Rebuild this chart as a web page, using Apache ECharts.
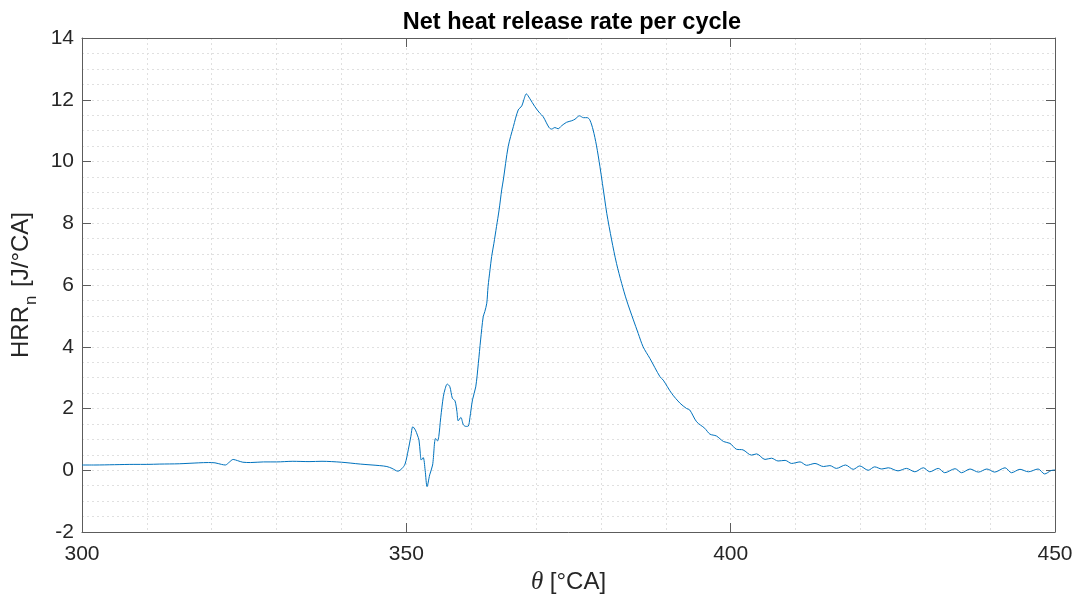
<!DOCTYPE html>
<html>
<head>
<meta charset="utf-8">
<script src="https://cdn.jsdelivr.net/npm/echarts@6/dist/echarts.min.js"></script>
<style>
html,body{margin:0;padding:0;background:#fff;}
#chart{width:1077px;height:597px;}
</style>
</head>
<body>
<div id="chart"></div>
<script>
const titleText = 'Net heat release rate per cycle';
const xTicks = [300, 350, 400, 450];
const yTicks = [-2, 0, 2, 4, 6, 8, 10, 12, 14];

const theta = [
  300, 302, 305, 308, 310, 312, 315, 318, 319.5, 320.5, 321.5, 322.1, 322.7, 323.3, 324, 324.8,
  326, 328, 330, 332.5, 335, 337, 340, 342.9, 345.9, 347, 347.8, 348.7, 349.3, 349.8,
  350.3, 350.7, 351.0, 351.4, 351.7, 351.95, 352.15, 352.3, 352.6, 352.9, 353.2, 353.6, 354.05,
  354.5, 354.8, 355.0, 355.3, 355.7, 356.0, 356.3, 356.7, 357.1, 357.5, 357.8, 358.0, 358.4,
  358.8, 359.2, 359.55, 359.8, 360.2, 360.7, 361.1, 361.45, 361.85, 362.1, 362.4, 362.6, 362.9,
  363.15, 363.5, 363.9, 364.3, 364.7, 364.95, 365.7, 366.5, 367.25, 367.8, 368.1, 368.5, 369.0,
  369.8, 370.6, 371.1, 372.0, 372.4, 372.9, 373.4, 373.9, 374.7, 375.5, 376.0, 376.7, 377.3,
  377.9, 378.3, 378.8, 379.3, 379.85, 380.6, 380.9, 381.65, 382.4, 383.2, 383.95, 385.0, 385.75,
  386.5, 387.55, 389.1, 389.6, 390.9, 392.2, 393.2, 393.7, 394.75, 396.0, 396.8, 397.8, 398.9,
  399.9, 400.9, 401.9, 403.2, 404.0, 405.3, 406.3, 407.3, 408.4, 409.4, 410.7, 411.7, 413.0,
  414.3, 415.3, 416.3, 417.7, 418.9, 419.9, 421.2, 422.2, 423.3, 424.3, 425.8, 427.1, 428.4,
  429.7, 430.7, 432.0, 433.0, 434.6, 435.6, 436.9, 438.2, 439.5, 440.7, 442.3, 443.3, 444.6,
  445.9, 447.4, 448.4, 449.4, 450
];
const hrr = [
  0.17, 0.17, 0.18, 0.19, 0.19, 0.2, 0.21, 0.24, 0.25, 0.24, 0.19, 0.17, 0.26, 0.35, 0.31, 0.26,
  0.25, 0.27, 0.27, 0.29, 0.28, 0.29, 0.26, 0.2, 0.15, 0.12, 0.06, -0.03, 0.05, 0.2,
  0.66, 1.1, 1.41, 1.3, 1.14, 0.98, 0.55, 0.33, 0.41, 0.0, -0.53, -0.15, 0.17,
  1.03, 0.95, 1.09, 1.7, 2.38, 2.65, 2.79, 2.71, 2.33, 2.25, 1.9, 1.6, 1.71,
  1.47, 1.42, 1.43, 1.7, 2.28, 2.7, 3.46, 4.22, 4.97, 5.14, 5.41, 5.95, 6.49,
  6.92, 7.35, 7.89, 8.43, 9.08, 9.4, 10.48, 11.13, 11.67, 11.8, 11.99, 12.19, 12.05,
  11.78, 11.56, 11.45, 11.1, 11.05, 11.1, 11.06, 11.15, 11.27, 11.32, 11.37, 11.48, 11.42,
  11.42, 11.34, 11.02, 10.53, 9.83, 8.75, 8.32, 7.46, 6.7, 6.05, 5.51, 4.87, 4.43,
  4.0, 3.62, 3.03, 2.92, 2.49, 2.17, 2.0, 1.95, 1.57, 1.36, 1.17, 1.11, 0.93,
  0.87, 0.68, 0.66, 0.49, 0.53, 0.35, 0.39, 0.3, 0.32, 0.22, 0.27, 0.16, 0.22,
  0.12, 0.15, 0.06, 0.17, 0.03, 0.14, 0.0, 0.11, 0.04, 0.08, -0.02, 0.06, -0.05,
  0.08, -0.05, 0.06, -0.08, 0.05, -0.08, 0.04, -0.06, 0.04, -0.06, 0.08, -0.08, 0.03,
  -0.05, 0.04, -0.12, -0.01, 0.01
];

const seriesData = theta.map((t, i) => [t, hrr[i]]);
const gridColor = '#e0e0e0';
const axisColor = '#5c5c5c';
const textColor = '#262626';
const font = '"Liberation Sans", Arial, Helvetica, sans-serif';
const serif = '"Liberation Serif", "Times New Roman", serif';

const chart = echarts.init(document.getElementById('chart'), null, {renderer: 'canvas'});

const baseX = {
  type: 'value', min: xTicks[0], max: xTicks[xTicks.length - 1], interval: 50
};
const baseY = {
  type: 'value', min: yTicks[0], max: yTicks[yTicks.length - 1], interval: 2
};

chart.setOption({
  animation: false,
  backgroundColor: '#ffffff',
  title: {
    text: titleText,
    left: 567, top: 6, textAlign: 'center',
    textStyle: {fontFamily: font, fontSize: 23.5, fontWeight: 'bold', color: '#000'}
  },
  grid: {left: 82, right: 22, top: 38, bottom: 65, containLabel: false, outerBoundsMode: 'none'},
  xAxis: [
    Object.assign({}, baseX, {
      position: 'bottom',
      name: '{i|θ}{a| [°CA]}',
      nameLocation: 'middle', nameGap: 34,
      nameTextStyle: {
        rich: {
          i: {fontFamily: serif, fontSize: 25, fontStyle: 'italic', color: textColor},
          a: {fontFamily: font, fontSize: 24, color: textColor}
        }
      },
      axisLine: {show: true, onZero: false, lineStyle: {color: axisColor, width: 1}},
      axisTick: {show: true, inside: true, length: 9, lineStyle: {color: axisColor}},
      axisLabel: {fontFamily: font, fontSize: 21, color: textColor, margin: 12},
      splitLine: {show: true, lineStyle: {color: gridColor, type: [2, 3], width: 1}},
      minorTick: {show: false, splitNumber: 5},
      minorSplitLine: {show: true, lineStyle: {color: gridColor, type: [2, 3], width: 1}}
    }),
    Object.assign({}, baseX, {
      position: 'top',
      axisLine: {show: true, onZero: false, lineStyle: {color: axisColor, width: 1}},
      axisTick: {show: true, inside: true, length: 9, lineStyle: {color: axisColor}},
      axisLabel: {show: false},
      splitLine: {show: false}
    })
  ],
  yAxis: [
    Object.assign({}, baseY, {
      position: 'left',
      name: '{a|HRR}{s|n}{a| [J/°CA]}',
      nameLocation: 'middle', nameGap: 37, nameRotate: 90,
      nameTextStyle: {
        rich: {
          a: {fontFamily: font, fontSize: 24, color: textColor, verticalAlign: 'top', lineHeight: 28},
          s: {fontFamily: font, fontSize: 17, color: textColor, verticalAlign: 'top', padding: [13, 2, 0, 1], lineHeight: 20}
        }
      },
      axisLine: {show: true, onZero: false, lineStyle: {color: axisColor, width: 1}},
      axisTick: {show: true, inside: true, length: 9, lineStyle: {color: axisColor}},
      axisLabel: {fontFamily: font, fontSize: 21, color: textColor, margin: 8},
      splitLine: {show: true, lineStyle: {color: gridColor, type: [2, 3], width: 1}},
      minorTick: {show: false, splitNumber: 4},
      minorSplitLine: {show: true, lineStyle: {color: gridColor, type: [2, 3], width: 1}}
    }),
    Object.assign({}, baseY, {
      position: 'right',
      axisLine: {show: true, onZero: false, lineStyle: {color: axisColor, width: 1}},
      axisTick: {show: true, inside: true, length: 9, lineStyle: {color: axisColor}},
      axisLabel: {show: false},
      splitLine: {show: false}
    })
  ],
  series: [{
    type: 'line',
    xAxisIndex: 0, yAxisIndex: 0,
    data: seriesData,
    showSymbol: false,
    smooth: 0.3,
    lineStyle: {color: '#0072BD', width: 1},
    clip: true
  }]
});
</script>
</body>
</html>
